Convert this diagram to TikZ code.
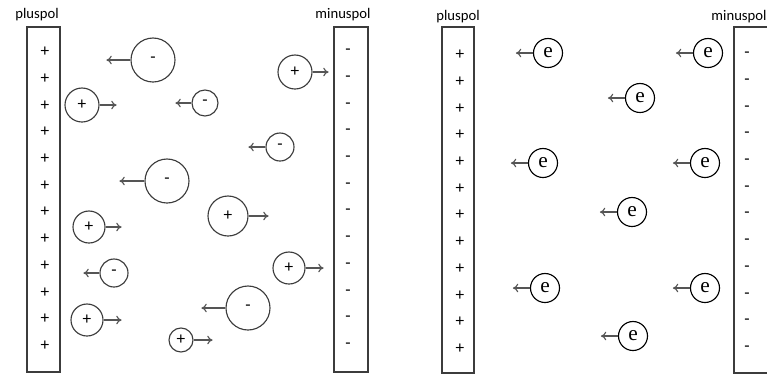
\documentclass[tikz,border=0pt]{standalone}
\usepackage{fontspec}
\setmainfont{Carlito}
\newfontfamily\eserif{Liberation Serif}
\usetikzlibrary{arrows.meta}
\definecolor{linegray}{RGB}{60,60,60}
\definecolor{arrowgray}{RGB}{85,85,85}

\tikzset{
  pol/.style={draw=linegray,line width=1.2pt},
  polsign/.style={font=\fontsize{13}{13}\selectfont,inner sep=0pt},
  ion/.style={circle,draw=linegray,line width=.85pt,inner sep=0pt,font=\fontsize{13}{13}\selectfont},
  elektron/.style={circle,draw=black,line width=.85pt,inner sep=0pt,minimum size=21.75pt,font=\eserif\fontsize{16}{16}\selectfont},
  flow/.style={-{To[length=4pt,width=6.5pt]},draw=arrowgray,line width=.85pt}
}

\begin{document}
\begin{tikzpicture}[x=.75pt,y=-.75pt]
\path[use as bounding box] (0,0) rectangle (767,376);
% links: Ionen
\node[font=\fontsize{11}{11}\selectfont] (lplus) at (37,15) {pluspol};
\node[font=\fontsize{11}{11}\selectfont] (lminus) at (343,15) {minuspol};
\draw[pol] (27,27) rectangle (60,372);
\draw[pol] (334,27) rectangle (368,372);
\foreach \i in {0,...,11}{
  \node[polsign] (lp\i) at (45,{52+26.7*\i}) {+};
  \node[polsign] (lm\i) at (348,{52+26.7*\i}) {-};
}
\foreach \x/\y/\r/\l [count=\i] in {82/105/17/17,295/72/17/16,89/227/16/16,228/216/20/20,289/268/16/18,87/320/16/18,181/340/12/19}{
  \node[ion,minimum size={\r*1.5pt}] (kat\i) at (\x,\y) {+};
  \path (kat\i.east) ++(\l,0) coordinate (katpfeil\i);
  \draw[flow] (kat\i) -- (katpfeil\i);
}
\foreach \x/\y/\r/\l [count=\i] in {153/60/22/24,205/103/13/16,280/147/14/17,167/181/22/25,114/273/14/16,248/308/22/24}{
  \node[ion,minimum size={\r*1.5pt}] (an\i) at (\x,\y) {-};
  \path (an\i.west) ++(-\l,0) coordinate (anpfeil\i);
  \draw[flow] (an\i) -- (anpfeil\i);
}
% rechts: Elektronen
\node[font=\fontsize{11}{11}\selectfont] (rplus) at (458,17) {pluspol};
\node[font=\fontsize{11}{11}\selectfont] (rminus) at (739,17) {minuspol};
\draw[pol] (442,27) rectangle (474,373);
\draw[pol] (734,27) rectangle (790,373);
\foreach \i in {0,...,11}{
  \node[polsign] (rp\i) at (460,{55+26.7*\i}) {+};
  \node[polsign] (rm\i) at (747,{55+26.7*\i}) {-};
}
\foreach \x/\y [count=\i] in {548/53,708/53,640/98,543/163,705/163,632/212,545/288,705/288,633/336}{
  \node[elektron] (e\i) at (\x,\y) {e};
  \path (e\i.west) ++(-17,0) coordinate (epfeil\i);
  \draw[flow] (e\i) -- (epfeil\i);
}
\end{tikzpicture}
\end{document}
